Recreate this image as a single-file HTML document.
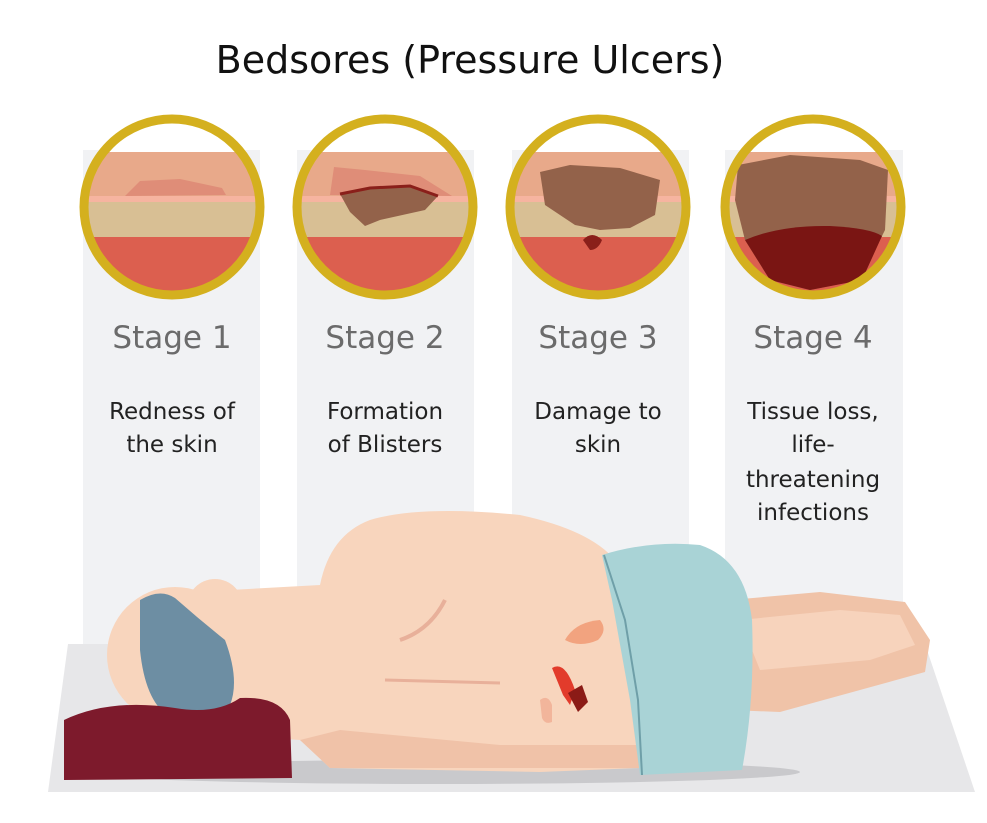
<!DOCTYPE html>
<html><head><meta charset="utf-8"><style>
body{margin:0;background:#fff;width:987px;height:819px;overflow:hidden;font-family:"DejaVu Sans","Liberation Sans",sans-serif}
</style></head><body>
<svg width="987" height="819" viewBox="0 0 987 819" xmlns="http://www.w3.org/2000/svg">
<defs>
<clipPath id="c1"><circle cx="172" cy="207" r="84"/></clipPath>
<clipPath id="c2"><circle cx="385" cy="207" r="84"/></clipPath>
<clipPath id="c3"><circle cx="598" cy="207" r="84"/></clipPath>
<clipPath id="c4"><circle cx="813" cy="207" r="84"/></clipPath>
</defs>
<rect x="83" y="150" width="177" height="500" fill="#f1f2f4"/>
<rect x="297" y="150" width="177" height="500" fill="#f1f2f4"/>
<rect x="512" y="150" width="177" height="500" fill="#f1f2f4"/>
<rect x="725" y="150" width="178" height="500" fill="#f1f2f4"/>
<text x="470" y="73" font-size="38" text-anchor="middle" fill="#111">Bedsores (Pressure Ulcers)</text>
<g clip-path="url(#c1)"><rect x="80" y="110" width="190" height="200" fill="#fff"/><rect x="80" y="152" width="190" height="45" fill="#e8a98a"/><rect x="80" y="196" width="190" height="6" fill="#f6b4a0"/><rect x="80" y="202" width="190" height="36" fill="#d8bf94"/><rect x="80" y="237" width="190" height="70" fill="#dc5f4f"/>
<path d="M125 196 L140 181 L180 179 L222 188 L226 195 Z" fill="#df8d78"/></g>
<g clip-path="url(#c2)"><rect x="290" y="110" width="190" height="200" fill="#fff"/><rect x="290" y="152" width="190" height="45" fill="#e8a98a"/><rect x="290" y="196" width="190" height="6" fill="#f6b4a0"/><rect x="290" y="202" width="190" height="36" fill="#d8bf94"/><rect x="290" y="237" width="190" height="70" fill="#dc5f4f"/>
<path d="M330 195 L334 167 L365 170 L420 176 L452 196 Z" fill="#df8d78"/>
<path d="M340 194 L370 188 L410 186 L438 196 L425 210 L380 220 L365 226 L350 212 Z" fill="#93624a"/>
<path d="M340 194 L370 188 L410 186 L438 196" stroke="#8a1f1a" stroke-width="3" fill="none"/></g>
<g clip-path="url(#c3)"><rect x="505" y="110" width="190" height="200" fill="#fff"/><rect x="505" y="152" width="190" height="45" fill="#e8a98a"/><rect x="505" y="196" width="190" height="6" fill="#f6b4a0"/><rect x="505" y="202" width="190" height="36" fill="#d8bf94"/><rect x="505" y="237" width="190" height="70" fill="#dc5f4f"/>
<path d="M540 172 L570 165 L620 168 L660 180 L655 215 L630 228 L600 230 L575 225 L545 205 Z" fill="#93624a"/>
<path d="M583 240 Q592 230 602 240 Q598 250 590 250 Z" fill="#8a1f1a"/></g>
<g clip-path="url(#c4)"><rect x="720" y="110" width="190" height="200" fill="#fff"/><rect x="720" y="152" width="190" height="45" fill="#e8a98a"/><rect x="720" y="196" width="190" height="6" fill="#f6b4a0"/><rect x="720" y="202" width="190" height="36" fill="#d8bf94"/><rect x="720" y="237" width="190" height="70" fill="#dc5f4f"/>
<path d="M738 165 L790 155 L860 160 L888 170 L885 230 L860 280 L810 290 L770 280 L745 240 L735 200 Z" fill="#93624a"/>
<path d="M745 240 Q780 225 830 226 Q870 228 882 236 L862 280 L810 290 L770 280 Z" fill="#7a1513"/></g>
<g fill="none" stroke="#d4b01e" stroke-width="9">
<circle cx="172" cy="207" r="88"/><circle cx="385" cy="207" r="88"/><circle cx="598" cy="207" r="88"/><circle cx="813" cy="207" r="88"/>
</g>
<g font-size="31" fill="#6b6b6b" text-anchor="middle">
<text x="172" y="348">Stage 1</text><text x="385" y="348">Stage 2</text><text x="598" y="348">Stage 3</text><text x="813" y="348">Stage 4</text>
</g>
<g font-size="23" fill="#222" text-anchor="middle">
<text x="172" y="419">Redness of</text><text x="172" y="452">the skin</text>
<text x="385" y="419">Formation</text><text x="385" y="452">of Blisters</text>
<text x="598" y="419">Damage to</text><text x="598" y="452">skin</text>
<text x="813" y="419">Tissue loss,</text><text x="813" y="452">life-</text><text x="813" y="487">threatening</text><text x="813" y="520">infections</text>
</g>
<path d="M68 644 L925 644 L975 792 L48 792 Z" fill="#e7e7e9"/>
<ellipse cx="440" cy="772" rx="360" ry="12" fill="#c9c9cc"/>
<path d="M730 600 L820 592 L905 602 L930 640 L925 672 L860 690 L780 712 L730 710 Z" fill="#f0c3a8"/>
<path d="M740 620 L840 610 L900 615 L915 645 L870 660 L760 670 Z" fill="#f7d3bc"/>
<path d="M230 590 L320 585 Q330 535 370 520 Q420 505 520 515 Q590 530 615 560 L640 600 L650 690 L640 768 L540 772 L330 768 L300 740 L230 735 Z" fill="#f8d5bd"/>
<path d="M300 740 L340 730 L500 745 L640 745 L640 768 L330 768 Z" fill="#f0c2a8"/>
<path d="M400 640 Q430 630 445 600" stroke="#e8b09a" stroke-width="4" fill="none"/>
<path d="M385 680 L500 683" stroke="#e8b09a" stroke-width="3" fill="none"/>
<circle cx="175" cy="655" r="68" fill="#f8d5bd"/>
<circle cx="215" cy="607" r="28" fill="#f8d5bd"/>
<path d="M140 600 Q160 588 175 598 Q200 620 225 640 Q240 680 230 705 Q200 720 168 716 Q145 700 140 650 Z" fill="#6d8ea3"/>
<path d="M64 720 Q110 698 175 708 Q215 715 240 698 Q280 696 290 720 L292 778 L64 780 Z" fill="#7d1a2c"/>
<path d="M602 555 Q650 540 700 545 Q745 560 752 620 Q755 700 742 770 L640 775 L630 700 L612 600 Z" fill="#a9d3d6"/>
<path d="M604 555 L625 620 L638 700 L642 775" stroke="#6f9fa8" stroke-width="2" fill="none"/>
<path d="M565 640 Q575 622 600 620 Q608 630 598 640 Q580 648 565 640 Z" fill="#f2a37f"/>
<path d="M552 668 Q565 660 575 690 L570 705 L563 695 Z" fill="#e23b2b"/>
<path d="M568 693 L582 685 L588 702 L578 712 Z" fill="#8b1b16"/>
<path d="M540 700 Q548 694 552 705 L552 722 Q545 725 542 718 Z" fill="#f2b59b"/>
</svg>
</body></html>
